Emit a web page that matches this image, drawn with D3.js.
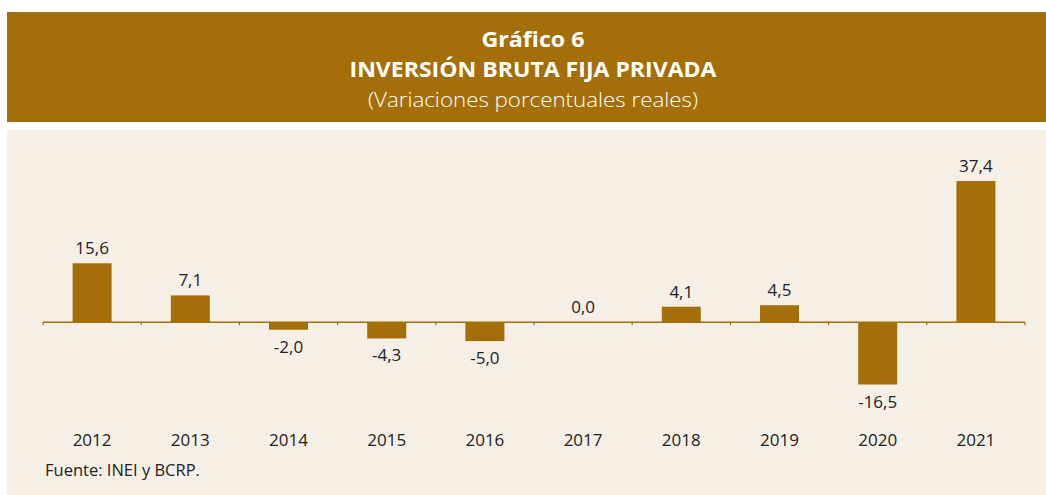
<!DOCTYPE html>
<html>
<head>
<meta charset="utf-8">
<script src="https://cdn.jsdelivr.net/npm/d3@7"></script>
<style>
  body { margin: 0; background: #fff; }
  svg { display: block; }
</style>
</head>
<body>
<svg id="chart" width="1046" height="495"></svg>
<script>
const years = ["2012", "2013", "2014", "2015", "2016", "2017", "2018", "2019", "2020", "2021"];
const values = [15.6, 7.1, -2.0, -4.3, -5.0, 0.0, 4.1, 4.5, -16.5, 37.4];
const titleLines = ["Gráfico 6", "INVERSIÓN BRUTA FIJA PRIVADA", "(Variaciones porcentuales reales)"];
const sourceText = "Fuente: INEI y BCRP.";

const gold = "#a46f08";
const svg = d3.select("#chart");
const font = "'Open Sans', 'Noto Sans', sans-serif";

// header band
svg.append("rect").attr("x", 7).attr("y", 12).attr("width", 1039).attr("height", 110).attr("fill", gold);
// panel
svg.append("rect").attr("x", 7).attr("y", 130).attr("width", 1039).attr("height", 365).attr("fill", "#f5efe6");

const titleY = [47, 77, 107];
const titleW = [103, 367, 330];
svg.selectAll("text.title")
  .data(titleLines)
  .enter()
  .append("text")
  .attr("class", "title")
  .attr("x", 533)
  .attr("y", (d, i) => titleY[i])
  .attr("text-anchor", "middle")
  .attr("fill", "#fff")
  .attr("font-family", font)
  .attr("font-size", 21)
  .attr("font-weight", (d, i) => i === 2 ? 300 : 700)
  .attr("textLength", (d, i) => titleW[i])
  .attr("lengthAdjust", "spacingAndGlyphs")
  .text(d => d);

const y = d3.scaleLinear()
  .domain([-16.5, 37.4])
  .range([384.5, 181]);

const band = d3.scaleBand().domain(years).range([43, 1025]);

svg.selectAll("rect.bar")
  .data(values)
  .enter()
  .append("rect")
  .attr("class", "bar")
  .attr("x", (d, i) => band(years[i]) + band.bandwidth() / 2 - 19.5)
  .attr("width", 39)
  .attr("y", d => y(Math.max(0, d)))
  .attr("height", d => Math.abs(y(d) - y(0)))
  .attr("fill", gold);

// zero axis with ticks
const axisG = svg.append("g");
axisG.append("line")
  .attr("x1", 43).attr("x2", 1025)
  .attr("y1", y(0)).attr("y2", y(0))
  .attr("stroke", gold).attr("stroke-width", 1.5);
axisG.selectAll("line.tick")
  .data(years.concat(["end"]))
  .enter()
  .append("line")
  .attr("class", "tick")
  .attr("x1", (d, i) => 43 + i * band.step())
  .attr("x2", (d, i) => 43 + i * band.step())
  .attr("y1", y(0))
  .attr("y2", y(0) + 3)
  .attr("stroke", gold).attr("stroke-width", 1.2);

const fmt = v => d3.format(".1f")(v).replace(".", ",").replace("\u2212", "-");

svg.selectAll("text.val")
  .data(values)
  .enter()
  .append("text")
  .attr("class", "val")
  .attr("x", (d, i) => band(years[i]) + band.bandwidth() / 2)
  .attr("y", d => d >= 0 ? y(d) - 9 : y(d) + 23)
  .attr("text-anchor", "middle")
  .attr("fill", "#222")
  .attr("font-family", font)
  .attr("font-size", 17)
  .text(d => fmt(d));

svg.selectAll("text.year")
  .data(years)
  .enter()
  .append("text")
  .attr("class", "year")
  .attr("x", d => band(d) + band.bandwidth() / 2)
  .attr("y", 446)
  .attr("text-anchor", "middle")
  .attr("fill", "#222")
  .attr("font-family", font)
  .attr("font-size", 17)
  .text(d => d);

svg.append("text")
  .attr("x", 45)
  .attr("y", 476)
  .attr("fill", "#222")
  .attr("font-family", font)
  .attr("font-size", 16.5)
  .text(sourceText);
</script>
</body>
</html>
